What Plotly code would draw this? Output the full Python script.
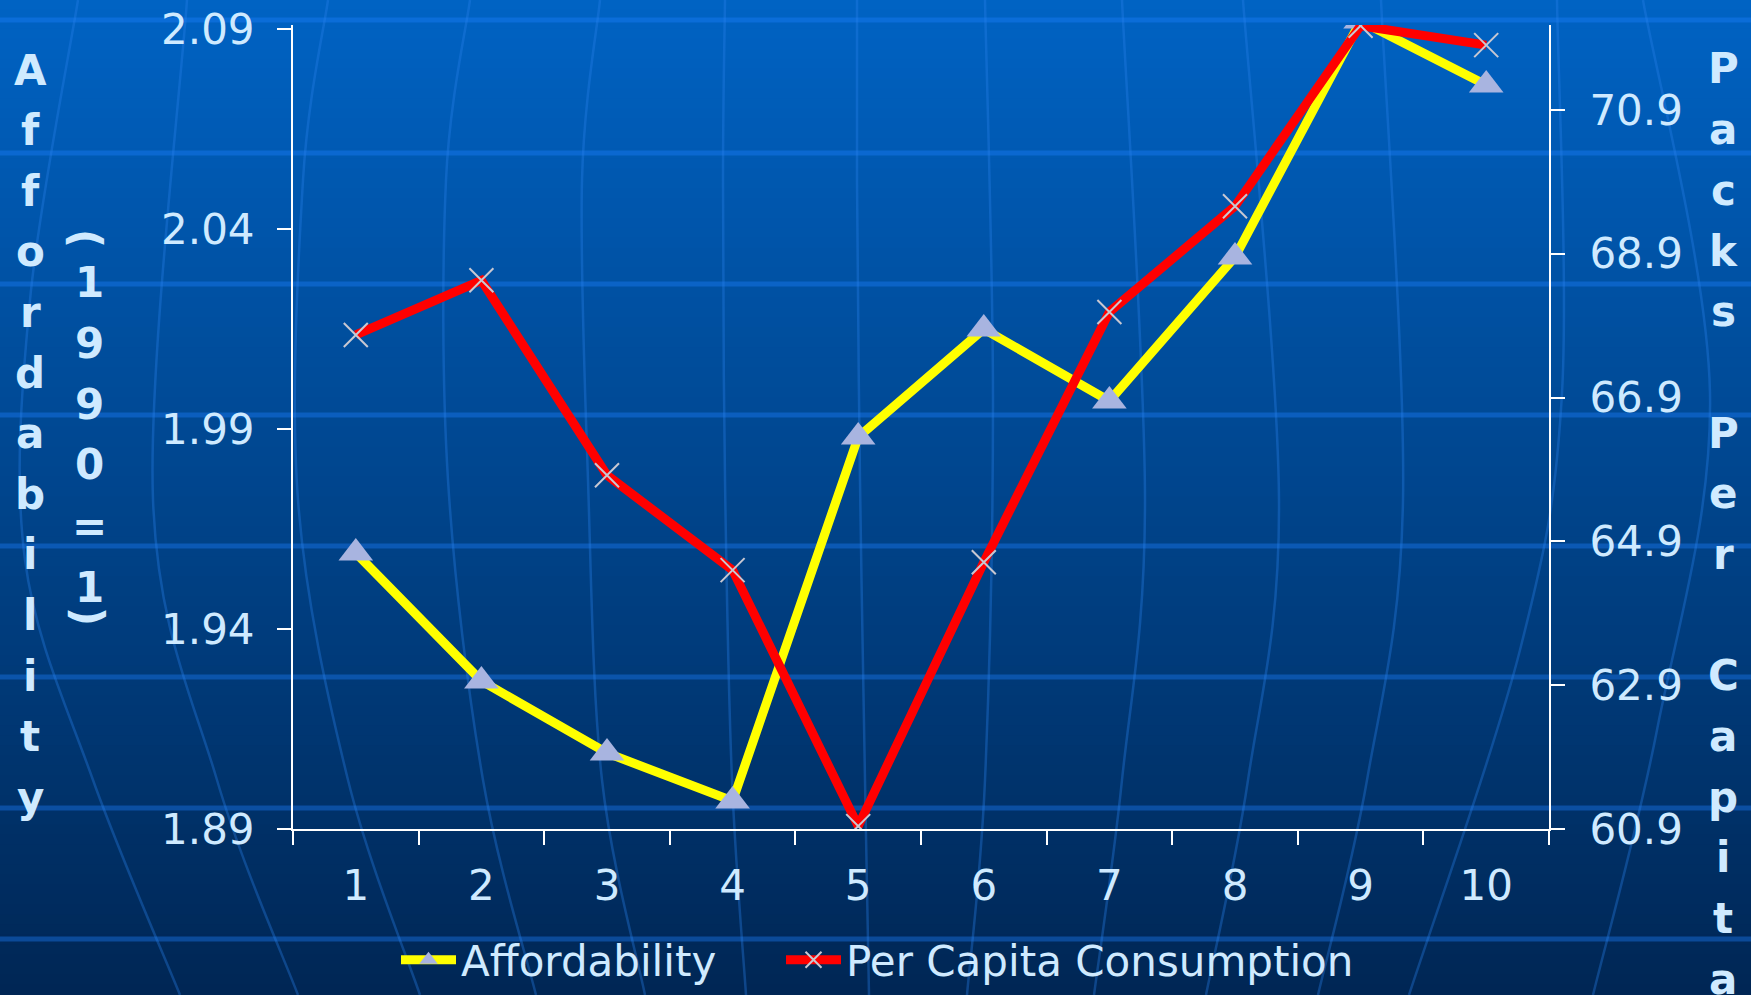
import plotly.graph_objects as go

# data
years = ["1", "2", "3", "4", "5", "6", "7", "8", "9", "10"]
affordability = [1.959, 1.927, 1.909, 1.897, 1.988, 2.015, 1.997, 2.033, 2.092, 2.076]
per_capita = [67.77, 68.53, 65.82, 64.50, 60.94, 64.61, 68.09, 69.56, 72.07, 71.80]

left_ticks = [1.89, 1.94, 1.99, 2.04, 2.09]
right_ticks = [60.9, 62.9, 64.9, 66.9, 68.9, 70.9]

W, H = 1751, 995
PL, PR, PT, PB = 293, 1549, 25, 829
TXT = "#cfeaff"


def px(x):
    return (x - PL) / (PR - PL)


def py(y):
    return (PB - y) / (PB - PT)


fig = go.Figure()

fig.add_trace(go.Scatter(
    x=years, y=affordability, name="Affordability", mode="lines+markers",
    line=dict(color="#ffff00", width=9),
    marker=dict(symbol="triangle-up", size=30, color="#a8b4e0"),
))
fig.add_trace(go.Scatter(
    x=years, y=per_capita, name="Per Capita Consumption", mode="lines+markers",
    yaxis="y2", legend="legend2",
    line=dict(color="#ff0000", width=9),
    marker=dict(symbol="x-thin", size=24, line=dict(color="#c8c8d2", width=2)),
))

# background: vertical gradient strips
shapes = []
top, bot = (0, 99, 196), (0, 38, 84)
n = 100
for i in range(n):
    t = (i + 0.5) / n
    c = tuple(round(a + (b - a) * t) for a, b in zip(top, bot))
    y0 = i * H / n - 1
    y1 = (i + 1) * H / n + 1
    shapes.append(dict(type="rect", xref="paper", yref="paper", layer="below",
                       x0=px(-5), x1=px(W + 5), y0=py(y1), y1=py(y0),
                       fillcolor="rgb(%d,%d,%d)" % c, line=dict(width=0)))

# horizontal bands of the slide background
for yb in [20, 153, 284, 415, 546, 677, 808, 939]:
    shapes.append(dict(type="line", xref="paper", yref="paper", layer="below",
                       x0=px(0), x1=px(W), y0=py(yb), y1=py(yb),
                       line=dict(color="rgba(30,130,255,0.38)", width=5)))

# faint globe meridians
meridians = [
    [(78, 0), (30, 300), (25, 560), (93, 780), (180, 995)],
    [(187, 0), (153, 500), (217, 780), (298, 995)],
    [(328, 0), (303, 180), (298, 500), (348, 780), (420, 995)],
    [(470, 0), (446, 180), (448, 480), (483, 780), (536, 995)],
    [(600, 0), (582, 180), (588, 480), (602, 780), (645, 995)],
    [(725, 0), (723, 180), (725, 480), (732, 780), (746, 995)],
    [(857, 0), (857, 180), (860, 480), (865, 780), (869, 995)],
    [(985, 0), (993, 400), (985, 780), (967, 995)],
    [(1122, 0), (1145, 500), (1122, 780), (1094, 995)],
    [(1243, 0), (1279, 500), (1248, 780), (1206, 995)],
    [(1381, 0), (1403, 500), (1367, 780), (1318, 995)],
    [(1557, 0), (1562, 393), (1520, 650), (1409, 995)],
    [(1643, 0), (1710, 393), (1657, 730), (1593, 995)],
]


def smooth_path(pts):
    p = [(px(x), py(y)) for x, y in pts]
    d = "M %.5f,%.5f" % p[0]
    for i in range(len(p) - 1):
        p0 = p[i - 1] if i > 0 else p[i]
        p1, p2 = p[i], p[i + 1]
        p3 = p[i + 2] if i + 2 < len(p) else p2
        c1 = (p1[0] + (p2[0] - p0[0]) / 6, p1[1] + (p2[1] - p0[1]) / 6)
        c2 = (p2[0] - (p3[0] - p1[0]) / 6, p2[1] - (p3[1] - p1[1]) / 6)
        d += " C %.5f,%.5f %.5f,%.5f %.5f,%.5f" % (c1 + c2 + p2)
    return d


for m in meridians:
    shapes.append(dict(type="path", xref="paper", yref="paper", layer="below",
                       path=smooth_path(m),
                       line=dict(color="rgba(40,130,235,0.35)", width=2.5)))

# stacked axis titles
annotations = []
for k, ch in enumerate("Affordability"):
    annotations.append(dict(text=ch, x=px(30), y=py(70 + k * 60.6)))
for k, ch in enumerate("1990=1"):
    annotations.append(dict(text=ch, x=px(89), y=py(282 + k * 61)))
annotations.append(dict(text="(", x=px(86), y=py(238), textangle=90))
annotations.append(dict(text=")", x=px(88), y=py(616), textangle=90))
for k, ch in enumerate("Packs Per Capita"):
    if ch != " ":
        annotations.append(dict(text=ch, x=px(1723), y=py(69 + k * 60.67)))
for a in annotations:
    a.update(xref="paper", yref="paper", showarrow=False,
             xanchor="center", yanchor="middle",
             font=dict(family="DejaVu Sans", size=42, color=TXT, weight="bold"))

tick_font = dict(family="DejaVu Sans", size=42, color=TXT)
axis_common = dict(showline=True, linecolor="white", linewidth=2,
                   ticks="outside", ticklen=14, tickwidth=2, tickcolor="white",
                   showgrid=False, zeroline=False, tickfont=tick_font)

legend_common = dict(orientation="h", xanchor="left", y=py(960), yanchor="middle",
                     itemwidth=55, font=dict(family="DejaVu Sans", size=42, color=TXT),
                     bgcolor="rgba(0,0,0,0)")

fig.update_layout(
    width=W, height=H,
    margin=dict(l=PL, r=W - PR, t=PT, b=H - PB, autoexpand=False),
    paper_bgcolor="rgb(0,38,84)",
    plot_bgcolor="rgba(0,0,0,0)",
    shapes=shapes,
    annotations=annotations,
    xaxis=dict(type="category", range=[-0.5, 9.5], tickson="boundaries",
               ticklabelstandoff=19, **axis_common),
    yaxis=dict(range=[1.89, 2.091], tickvals=left_ticks, tickformat=".2f",
               ticklabelstandoff=14, **axis_common),
    yaxis2=dict(range=[60.9, 72.08], tickvals=right_ticks, tickformat=".1f",
                overlaying="y", side="right", ticklabelstandoff=16, **axis_common),
    legend=dict(x=px(396), **legend_common),
    legend2=dict(x=px(781), **legend_common),
    showlegend=True,
)

fig.write_html("out.html", config={"displayModeBar": False},
               post_script="document.body.style.margin='0';document.body.style.overflow='hidden';")
